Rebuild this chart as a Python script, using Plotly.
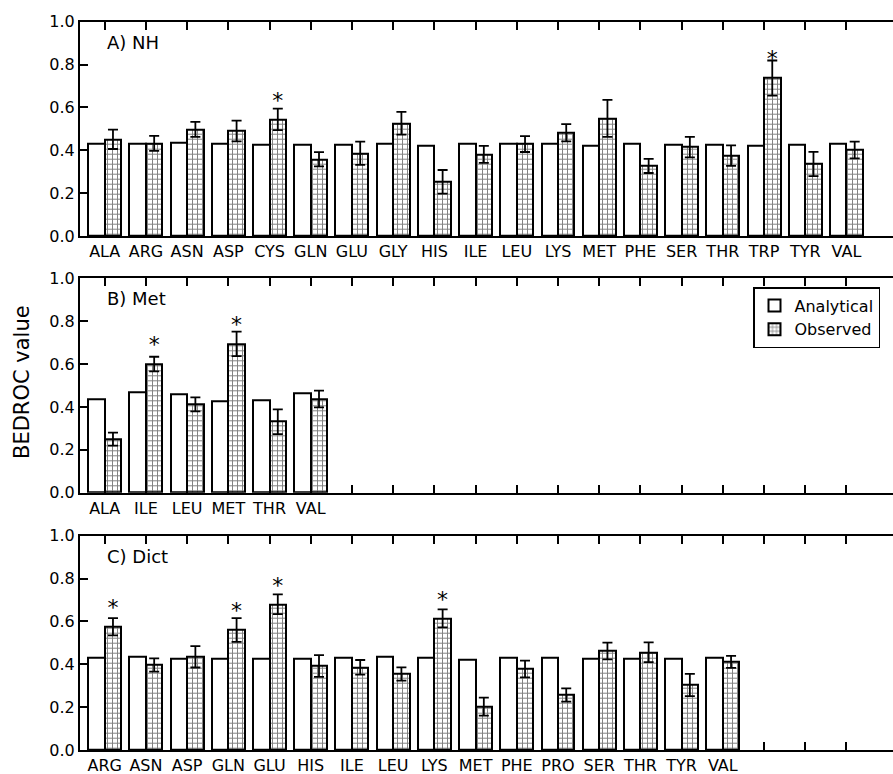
import plotly.graph_objects as go

# ---------------- data ----------------
cats_A = ["ALA", "ARG", "ASN", "ASP", "CYS", "GLN", "GLU", "GLY", "HIS", "ILE",
          "LEU", "LYS", "MET", "PHE", "SER", "THR", "TRP", "TYR", "VAL"]
analytical_A = [0.432, 0.432, 0.437, 0.429, 0.426, 0.426, 0.426, 0.429, 0.423, 0.432,
                0.432, 0.429, 0.421, 0.432, 0.425, 0.425, 0.421, 0.425, 0.432]
observed_A = [0.451, 0.432, 0.498, 0.490, 0.544, 0.358, 0.386, 0.526, 0.253, 0.381,
              0.429, 0.482, 0.549, 0.327, 0.415, 0.375, 0.737, 0.336, 0.401]
error_A = [0.045, 0.035, 0.035, 0.048, 0.050, 0.033, 0.054, 0.053, 0.055, 0.040,
           0.037, 0.040, 0.086, 0.033, 0.048, 0.048, 0.082, 0.057, 0.039]
signif_A = ["CYS", "TRP"]

cats_B = ["ALA", "ILE", "LEU", "MET", "THR", "VAL"]
analytical_B = [0.436, 0.466, 0.460, 0.424, 0.429, 0.463]
observed_B = [0.250, 0.600, 0.412, 0.694, 0.331, 0.437]
error_B = [0.030, 0.034, 0.033, 0.057, 0.058, 0.039]
signif_B = ["ILE", "MET"]

cats_C = ["ARG", "ASN", "ASP", "GLN", "GLU", "HIS", "ILE", "LEU", "LYS", "MET",
          "PHE", "PRO", "SER", "THR", "TYR", "VAL"]
analytical_C = [0.432, 0.437, 0.428, 0.425, 0.428, 0.425, 0.431, 0.435, 0.431, 0.420,
                0.431, 0.432, 0.428, 0.428, 0.428, 0.432]
observed_C = [0.575, 0.397, 0.435, 0.560, 0.680, 0.392, 0.386, 0.355, 0.614, 0.202,
              0.378, 0.257, 0.462, 0.456, 0.303, 0.411]
error_C = [0.040, 0.031, 0.050, 0.055, 0.046, 0.051, 0.034, 0.031, 0.042, 0.042,
           0.039, 0.031, 0.039, 0.046, 0.052, 0.028]
signif_C = ["ARG", "GLN", "GLU", "LYS"]

panel_titles = ["A) NH", "B) Met", "C) Dict"]
n_slots = 19
y_ticks = [0.0, 0.2, 0.4, 0.6, 0.8, 1.0]

# ---------------- figure ----------------
W, H = 893, 774
ML = 80
fig = go.Figure()

panels = [
    (cats_A, analytical_A, observed_A, error_A, signif_A),
    (cats_B, analytical_B, observed_B, error_B, signif_B),
    (cats_C, analytical_C, observed_C, error_C, signif_C),
]
# pixel positions (top, bottom) of each panel
panel_px = [(21.7, 236.0), (278.3, 492.7), (535.7, 750.0)]

font_fam = "DejaVu Sans"

for k, (cats, ana, obs, err, sig) in enumerate(panels):
    xa = "x" if k == 0 else f"x{k+1}"
    ya = "y" if k == 0 else f"y{k+1}"
    idx = list(range(len(cats)))
    show = (k == 1)
    fig.add_trace(go.Bar(
        x=idx, y=ana, width=0.4, offset=-0.4, name="Analytical",
        marker=dict(color="white", line=dict(color="black", width=2)),
        xaxis=xa, yaxis=ya, showlegend=show, legendgroup="a",
    ))
    fig.add_trace(go.Bar(
        x=idx, y=obs, width=0.4, offset=0.0, name="Observed",
        marker=dict(color="white", line=dict(color="black", width=2),
                    pattern=dict(shape="+", size=5, solidity=0.35,
                                 fgcolor="black", bgcolor="white")),
        error_y=dict(type="data", array=err, visible=True, color="black",
                     thickness=1.8, width=5),
        xaxis=xa, yaxis=ya, showlegend=show, legendgroup="o",
    ))
    sx = [cats.index(c) + 0.2 for c in sig]
    sy = [obs[cats.index(c)] + 0.08 for c in sig]
    fig.add_trace(go.Scatter(
        x=sx, y=sy, mode="text", text=["*"] * len(sx),
        textposition="middle center",
        textfont=dict(size=22, color="black", family=font_fam),
        xaxis=xa, yaxis=ya, showlegend=False, hoverinfo="skip",
    ))

    top, bot = panel_px[k]
    dom = [1 - bot / H, 1 - top / H]
    ticktext = cats + [""] * (n_slots - len(cats))
    xkey = "xaxis" if k == 0 else f"xaxis{k+1}"
    ykey = "yaxis" if k == 0 else f"yaxis{k+1}"
    fig.update_layout(**{
        xkey: dict(
            domain=[0, 1], anchor=ya, range=[-0.6, 19.13], automargin=False,
            tickmode="array", tickvals=list(range(n_slots)), ticktext=ticktext,
            ticks="inside", ticklen=8, tickwidth=1.5, tickcolor="black",
            showline=True, linecolor="black", linewidth=2, mirror="ticks",
            showgrid=False, zeroline=False,
            tickfont=dict(family=font_fam, size=16, color="black"),
        ),
        ykey: dict(
            domain=dom, anchor=xa, range=[0, 1.0], automargin=False,
            tickmode="array", tickvals=y_ticks,
            ticktext=[f"{v:.1f}" for v in y_ticks],
            ticks="inside", ticklen=8, tickwidth=1.5, tickcolor="black",
            showline=True, linecolor="black", linewidth=2,
            showgrid=False, zeroline=False,
            tickfont=dict(family=font_fam, size=16, color="black"),
        ),
    })
    fig.add_annotation(
        text=panel_titles[k], xref=f"{xa} domain", yref=f"{ya} domain",
        x=(105 - ML) / (W - ML), y=0.905, xanchor="left", yanchor="middle",
        showarrow=False, font=dict(family=font_fam, size=18, color="black"),
    )

fig.add_annotation(
    text="BEDROC value", xref="paper", yref="paper",
    x=(22 - ML) / (W - ML), y=1 - 382 / H, textangle=-90,
    xanchor="center", yanchor="middle", showarrow=False,
    font=dict(family=font_fam, size=21, color="black"),
)

fig.update_layout(
    width=W, height=H,
    margin=dict(l=ML, r=0, t=0, b=0, autoexpand=False),
    paper_bgcolor="white", plot_bgcolor="white",
    barmode="overlay", bargap=0,
    legend=dict(
        x=(753 - ML) / (W - ML), y=1 - 287 / H, xanchor="left", yanchor="top",
        bgcolor="white", bordercolor="black", borderwidth=1.5,
        font=dict(family=font_fam, size=16, color="black"),
        tracegroupgap=0, itemwidth=30,
    ),
    font=dict(family=font_fam),
)

fig.write_html(
    "out.html",
    config={"displayModeBar": False},
    post_script="document.body.style.margin='0px';document.body.style.overflow='hidden';",
)
